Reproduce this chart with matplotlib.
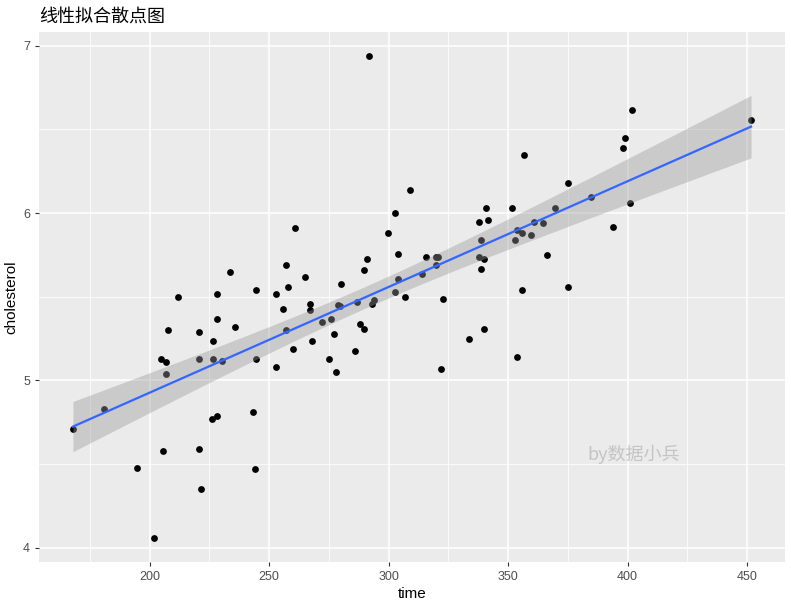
import matplotlib.pyplot as plt
import numpy as np

# data
time = [167.9, 180.9, 194.8, 201.9, 204.9, 205.7, 207.0, 207.0, 207.8, 212.0,
        220.8, 220.8, 220.8, 221.7, 225.9, 226.7, 226.7, 228.0, 228.0, 228.0,
        230.1, 233.8, 235.9, 243.1, 243.9, 244.7, 244.7, 252.7, 252.7, 255.7,
        256.9, 256.9, 257.8, 259.9, 260.7, 264.9, 267.0, 267.0, 267.8, 272.0,
        275.0, 275.8, 277.1, 277.9, 278.7, 279.6, 280.0, 285.9, 286.7, 288.0,
        289.7, 289.7, 290.9, 291.8, 293.0, 293.9, 299.7, 302.7, 302.7, 303.9,
        303.9, 306.9, 309.0, 314.0, 315.7, 319.9, 320.7, 319.9, 322.0, 322.8,
        333.7, 337.9, 337.9, 338.8, 338.8, 340.0, 340.0, 340.9, 341.7, 351.8,
        353.0, 353.9, 353.9, 356.0, 356.0, 356.8, 359.8, 361.0, 364.8, 366.1,
        369.8, 374.9, 374.9, 384.9, 393.8, 398.0, 398.8, 400.9, 401.7, 451.7]
cholesterol = [4.710, 4.830, 4.478, 4.060, 5.128, 4.579, 5.110, 5.039, 5.302, 5.499,
               5.290, 5.128, 4.591, 4.352, 4.770, 5.236, 5.128, 5.516, 5.367, 4.788,
               5.116, 5.648, 5.319, 4.812, 4.472, 5.540, 5.128, 5.516, 5.081, 5.427,
               5.690, 5.302, 5.558, 5.188, 5.910, 5.618, 5.457, 5.421, 5.236, 5.349,
               5.128, 5.367, 5.278, 5.051, 5.451, 5.442, 5.576, 5.176, 5.469, 5.337,
               5.660, 5.307, 5.725, 6.937, 5.457, 5.481, 5.881, 6.000, 5.528, 5.755,
               5.606, 5.499, 6.137, 5.636, 5.737, 5.737, 5.737, 5.690, 5.069, 5.487,
               5.248, 5.946, 5.737, 5.839, 5.666, 5.725, 5.307, 6.030, 5.958, 6.030,
               5.839, 5.899, 5.140, 5.881, 5.540, 6.346, 5.869, 5.946, 5.940, 5.749,
               6.030, 6.179, 5.558, 6.096, 5.916, 6.388, 6.448, 6.060, 6.615, 6.555]
x_ticks = [200, 250, 300, 350, 400, 450]
y_ticks = [4, 5, 6, 7]

x = np.array(time)
y = np.array(cholesterol)

# linear fit + 95% confidence band (like geom_smooth(method="lm"))
n = len(x)
slope, intercept = np.polyfit(x, y, 1)
resid = y - (slope * x + intercept)
s = np.sqrt(np.sum(resid ** 2) / (n - 2))
sxx = np.sum((x - x.mean()) ** 2)
xs = np.linspace(x.min(), x.max(), 80)
ys = slope * xs + intercept
se = s * np.sqrt(1 / n + (xs - x.mean()) ** 2 / sxx)
t = 1.9845

fig = plt.figure(figsize=(7.91, 6.07), dpi=100)
ax = fig.add_axes([0.0493, 0.0741, 0.9431, 0.8732])
ax.set_facecolor("#EBEBEB")
for sp in ax.spines.values():
    sp.set_visible(False)

ax.scatter(x, y, s=24, color="black", linewidths=0, zorder=3)
ax.fill_between(xs, ys - t * se, ys + t * se, color="#999999", alpha=0.4,
                linewidth=0, zorder=4)
ax.plot(xs, ys, color="#3366FF", linewidth=1.6, zorder=5)

ax.set_xlim(153.7, 465.9)
ax.set_ylim(3.916, 7.081)
ax.set_xticks(x_ticks)
ax.set_yticks(y_ticks)
ax.set_xticks([175, 225, 275, 325, 375, 425], minor=True)
ax.set_yticks([4.5, 5.5, 6.5], minor=True)
ax.grid(True, which="major", color="white", linewidth=1.1)
ax.grid(True, which="minor", color="white", linewidth=0.55)
ax.set_axisbelow(True)
ax.tick_params(which="major", length=3, width=0.8, color="#333333",
               labelcolor="#4D4D4D", labelsize=9)
ax.tick_params(which="minor", length=0)
for lab in ax.get_xticklabels() + ax.get_yticklabels():
    lab.set_family("Liberation Sans")

ax.set_xlabel("time", family="Liberation Sans", fontsize=11, labelpad=3)
ax.set_ylabel("cholesterol", family="Liberation Sans", fontsize=11, labelpad=3)

fig.text(0.0493, 0.957, "线性拟合散点图", family=["Noto Sans CJK SC", "DejaVu Sans"],
         fontsize=13, color="black", va="bottom")
ax.text(0.797, 0.203, "by数据小兵", transform=ax.transAxes,
        family=["Noto Sans CJK SC", "DejaVu Sans"], fontsize=13,
        color="#C4C4C4", ha="center", va="center")

fig.savefig("out.png", dpi=100)
